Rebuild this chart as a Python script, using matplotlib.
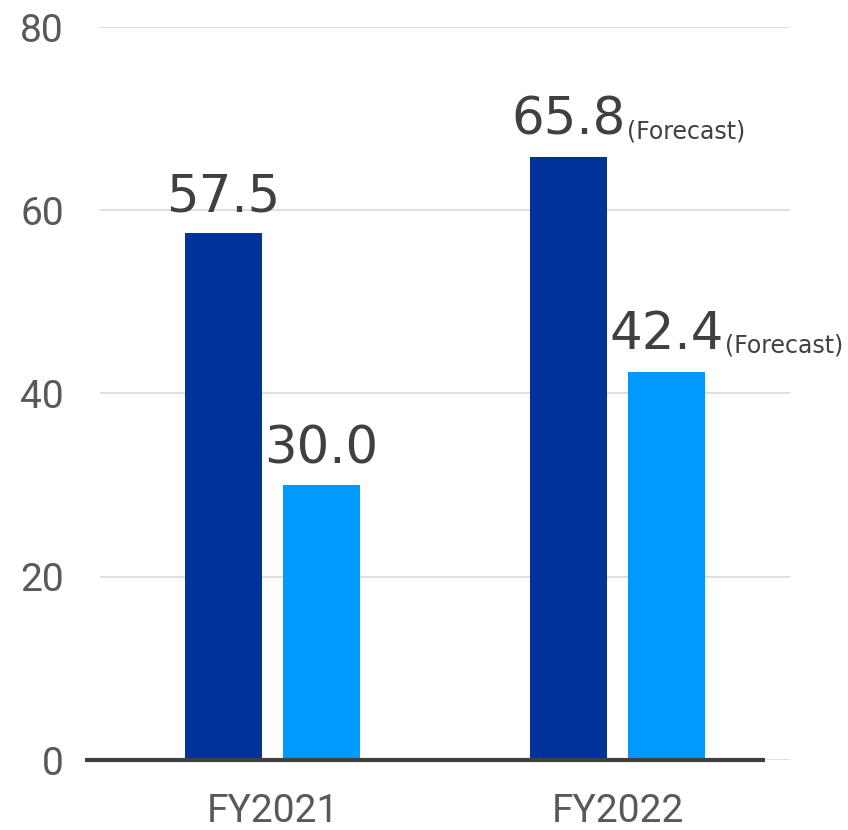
import matplotlib.pyplot as plt
import numpy as np

# Values per fiscal year
years = ["FY2021", "FY2022"]
series_dark = [57.5, 65.8]
series_light = [30.0, 42.4]
forecast_dark = [False, True]
forecast_light = [False, True]
y_ticks = [0, 20, 40, 60, 80]

DARK = "#003399"
LIGHT = "#0099FF"
TEXT = "#404040"
TICK = "#595959"
NARROW = ["Roboto", "DejaVu Sans"]

fig = plt.figure(figsize=(8.48, 8.30), dpi=100)
ax = fig.add_axes([100 / 848, 70 / 830, 690 / 848, 733 / 830])

x = np.arange(len(years))
w = 0.223
off = 0.142
bars_d = ax.bar(x - off, series_dark, w, color=DARK, zorder=3)
bars_l = ax.bar(x + off, series_light, w, color=LIGHT, zorder=3)

ax.set_xlim(-0.5, 1.5)
ax.set_ylim(0, 80)
ax.set_yticks(y_ticks)
ax.set_xticks(x)
ax.set_xticklabels(years)
ax.grid(axis="y", color="#d9d9d9", linewidth=1.2, zorder=0)
for s in ax.spines.values():
    s.set_visible(False)
ax.tick_params(axis="both", length=0, colors=TICK, labelsize=28)
ax.tick_params(axis="y", pad=26)
ax.tick_params(axis="x", pad=24)
for lab in ax.get_xticklabels() + ax.get_yticklabels():
    lab.set_family(NARROW)

# dark baseline, slightly offset from the grid span
ax.plot([-0.022, 0.964], [0, 0], transform=ax.get_yaxis_transform(),
        color=TEXT, linewidth=3, clip_on=False, zorder=4, solid_capstyle="butt")


def label(bars, vals, flags):
    for b, v, f in zip(bars, vals, flags):
        t = ax.annotate(f"{v:.1f}", (b.get_x() + b.get_width() / 2, v),
                        xytext=(0, 8), textcoords="offset points",
                        ha="center", va="bottom", fontsize=37, color=TEXT,
                        family="DejaVu Sans")
        if f:
            ax.annotate("(Forecast)", xy=(1, 0), xycoords=t,
                        xytext=(1, 2), textcoords="offset points",
                        ha="left", va="bottom", fontsize=17, color=TEXT,
                        family="DejaVu Sans")


label(bars_d, series_dark, forecast_dark)
label(bars_l, series_light, forecast_light)

fig.savefig("out.png", dpi=100)
